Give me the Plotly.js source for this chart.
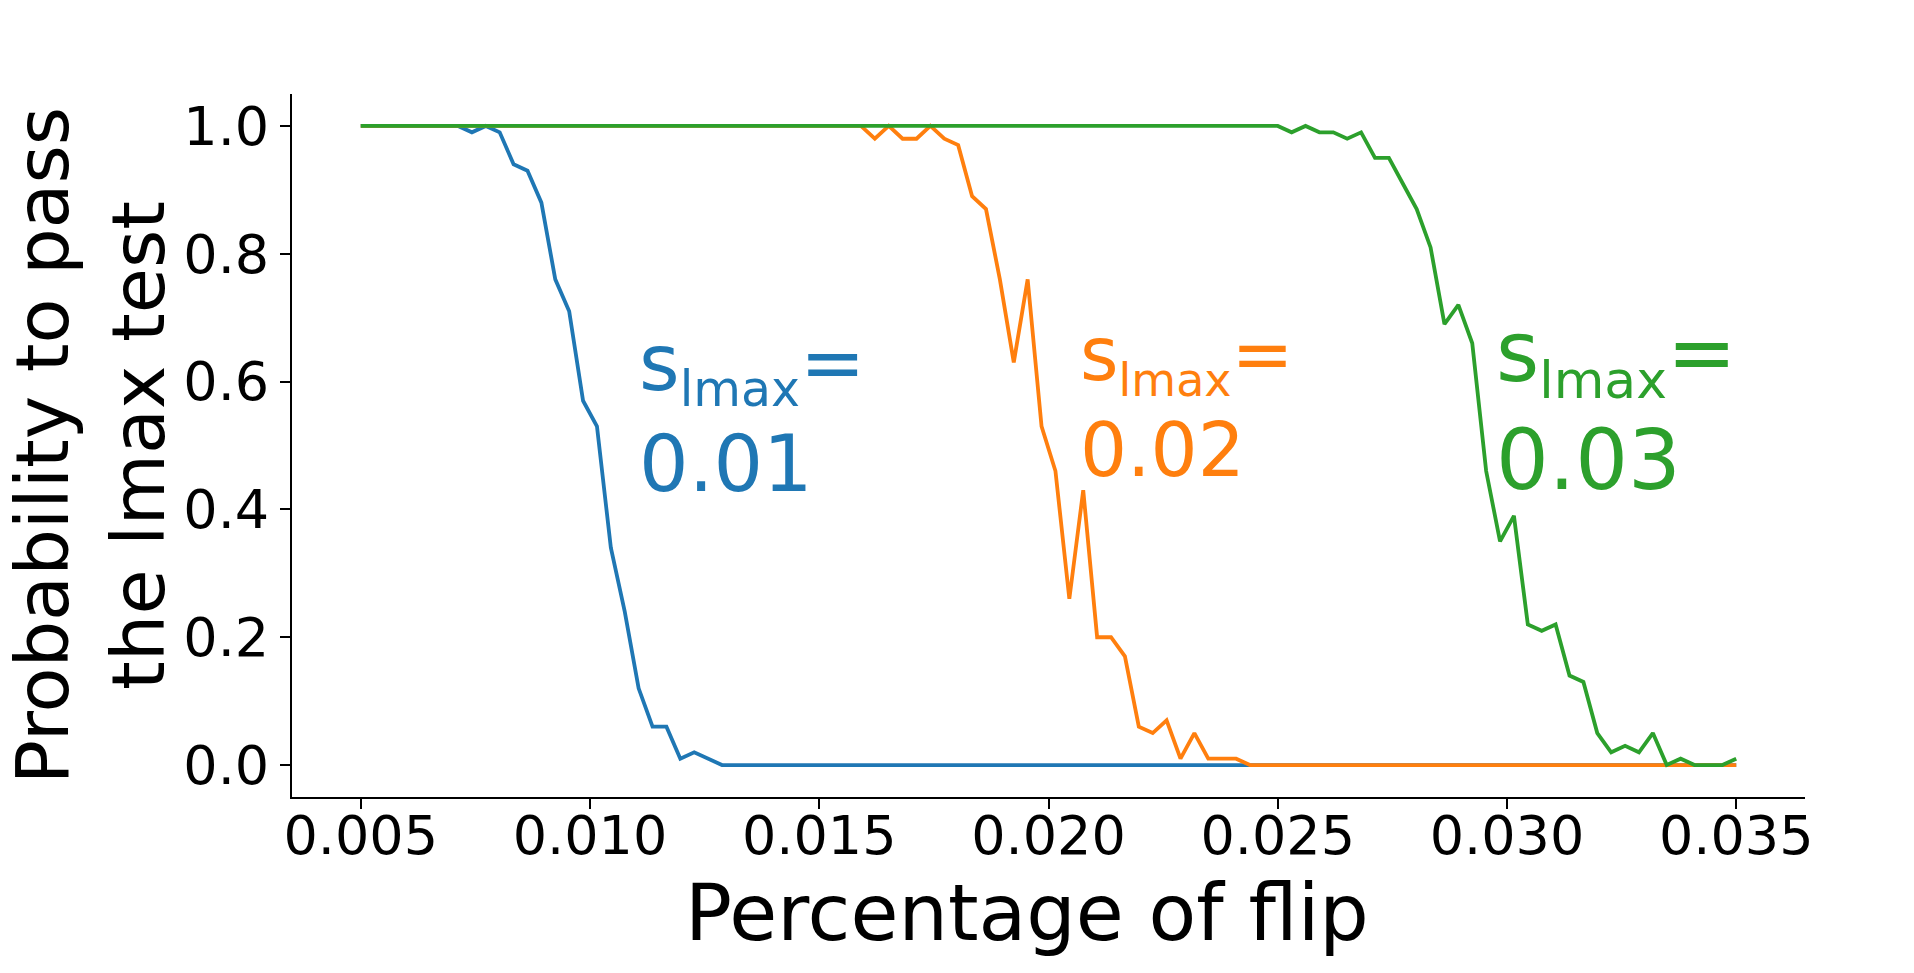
<!DOCTYPE html>
<html>
<head>
<meta charset="utf-8">
<script src="https://cdn.plot.ly/plotly-3.0.1.min.js"></script>
<style>
  html, body { margin: 0; padding: 0; background: #fff; }
  #chart { width: 1914px; height: 973px; }
</style>
</head>
<body>
<div id="chart"></div>
<script>
// percentage of flip (100 points, 0.005 .. 0.035)
const flip = [
  0.005, 0.0053030, 0.0056061, 0.0059091, 0.0062121, 0.0065152, 0.0068182, 0.0071212, 0.0074242, 0.0077273,
  0.0080303, 0.0083333, 0.0086364, 0.0089394, 0.0092424, 0.0095455, 0.0098485, 0.0101515, 0.0104545, 0.0107576,
  0.0110606, 0.0113636, 0.0116667, 0.0119697, 0.0122727, 0.0125758, 0.0128788, 0.0131818, 0.0134848, 0.0137879,
  0.0140909, 0.0143939, 0.0146970, 0.0150000, 0.0153030, 0.0156061, 0.0159091, 0.0162121, 0.0165152, 0.0168182,
  0.0171212, 0.0174242, 0.0177273, 0.0180303, 0.0183333, 0.0186364, 0.0189394, 0.0192424, 0.0195455, 0.0198485,
  0.0201515, 0.0204545, 0.0207576, 0.0210606, 0.0213636, 0.0216667, 0.0219697, 0.0222727, 0.0225758, 0.0228788,
  0.0231818, 0.0234848, 0.0237879, 0.0240909, 0.0243939, 0.0246970, 0.0250000, 0.0253030, 0.0256061, 0.0259091,
  0.0262121, 0.0265152, 0.0268182, 0.0271212, 0.0274242, 0.0277273, 0.0280303, 0.0283333, 0.0286364, 0.0289394,
  0.0292424, 0.0295455, 0.0298485, 0.0301515, 0.0304545, 0.0307576, 0.0310606, 0.0313636, 0.0316667, 0.0319697,
  0.0322727, 0.0325758, 0.0328788, 0.0331818, 0.0334848, 0.0337879, 0.0340909, 0.0343939, 0.0346970, 0.0350000
];

// probability to pass, s_lmax = 0.01
const pass_01 = [
  1, 1, 1, 1, 1, 1, 1, 1, 0.99, 1,
  0.99, 0.94, 0.93, 0.88, 0.76, 0.71, 0.57, 0.53, 0.34, 0.24,
  0.12, 0.06, 0.06, 0.01, 0.02, 0.01, 0, 0, 0, 0,
  0, 0, 0, 0, 0, 0, 0, 0, 0, 0,
  0, 0, 0, 0, 0, 0, 0, 0, 0, 0,
  0, 0, 0, 0, 0, 0, 0, 0, 0, 0,
  0, 0, 0, 0, 0, 0, 0, 0, 0, 0,
  0, 0, 0, 0, 0, 0, 0, 0, 0, 0,
  0, 0, 0, 0, 0, 0, 0, 0, 0, 0,
  0, 0, 0, 0, 0, 0, 0, 0, 0, 0
];

// s_lmax = 0.02
const pass_02 = [
  1, 1, 1, 1, 1, 1, 1, 1, 1, 1,
  1, 1, 1, 1, 1, 1, 1, 1, 1, 1,
  1, 1, 1, 1, 1, 1, 1, 1, 1, 1,
  1, 1, 1, 1, 1, 1, 1, 0.98, 1, 0.98,
  0.98, 1, 0.98, 0.97, 0.89, 0.87, 0.76, 0.63, 0.76, 0.53,
  0.46, 0.26, 0.43, 0.20, 0.20, 0.17, 0.06, 0.05, 0.07, 0.01,
  0.05, 0.01, 0.01, 0.01, 0, 0, 0, 0, 0, 0,
  0, 0, 0, 0, 0, 0, 0, 0, 0, 0,
  0, 0, 0, 0, 0, 0, 0, 0, 0, 0,
  0, 0, 0, 0, 0, 0, 0, 0, 0, 0
];

// s_lmax = 0.03
const pass_03 = [
  1, 1, 1, 1, 1, 1, 1, 1, 1, 1,
  1, 1, 1, 1, 1, 1, 1, 1, 1, 1,
  1, 1, 1, 1, 1, 1, 1, 1, 1, 1,
  1, 1, 1, 1, 1, 1, 1, 1, 1, 1,
  1, 1, 1, 1, 1, 1, 1, 1, 1, 1,
  1, 1, 1, 1, 1, 1, 1, 1, 1, 1,
  1, 1, 1, 1, 1, 1, 1, 0.99, 1, 0.99,
  0.99, 0.98, 0.99, 0.95, 0.95, 0.91, 0.87, 0.81, 0.69, 0.72,
  0.66, 0.46, 0.35, 0.39, 0.22, 0.21, 0.22, 0.14, 0.13, 0.05,
  0.02, 0.03, 0.02, 0.05, 0, 0.01, 0, 0, 0, 0.01
];

const series = [
  { y: pass_01, color: '#1f77b4', label: '0.01', at: [0.01102, 0.397], size: 78, sub: 49 },
  { y: pass_02, color: '#ff7f0e', label: '0.02', at: [0.02065, 0.423], size: 74, sub: 46 },
  { y: pass_03, color: '#2ca02c', label: '0.03', at: [0.02972, 0.397], size: 83, sub: 52 }
];

const x_ticks = [0.005, 0.010, 0.015, 0.020, 0.025, 0.030, 0.035];
const x_tick_text = ['0.005', '0.010', '0.015', '0.020', '0.025', '0.030', '0.035'];
const y_ticks = [0, 0.2, 0.4, 0.6, 0.8, 1.0];
const y_tick_text = ['0.0', '0.2', '0.4', '0.6', '0.8', '1.0'];

const font = 'DejaVu Sans, sans-serif';

var data = series.map(function (s) {
  return {
    x: flip,
    y: s.y,
    mode: 'lines',
    line: { color: s.color, width: 3.8 },
    hoverinfo: 'x+y',
    showlegend: false
  };
});

var notes = series.map(function (s) {
  return {
    x: s.at[0], y: s.at[1],
    xref: 'x', yref: 'y',
    xanchor: 'left', yanchor: 'bottom',
    align: 'left',
    showarrow: false,
    text: 's<sub><span style="font-size:' + s.sub + 'px">lmax</span></sub>=<br>' + s.label,
    font: { family: font, size: s.size, color: s.color }
  };
});

// x axis title, sits a little left of the axis centre as in the original
notes.push({
  x: 0.4861, y: -0.1657,
  xref: 'paper', yref: 'paper',
  xanchor: 'center', yanchor: 'middle',
  showarrow: false,
  text: 'Percentage of flip',
  font: { family: font, size: 78, color: '#000' }
});

var layout = {
  width: 1914,
  height: 973,
  margin: { l: 292, r: 109, t: 94, b: 176 },
  paper_bgcolor: '#fff',
  plot_bgcolor: '#fff',
  font: { family: font, color: '#000' },
  xaxis: {
    range: [0.0035, 0.0365],
    tickvals: x_ticks,
    ticktext: x_tick_text,
    ticks: 'outside', ticklen: 10, tickwidth: 2, tickcolor: '#000',
    showline: true, linecolor: '#000', linewidth: 2,
    showgrid: false, zeroline: false,
    tickfont: { family: font, size: 54, color: '#000' },
    ticklabelstandoff: -20,
    automargin: false
  },
  yaxis: {
    range: [-0.05, 1.05],
    tickvals: y_ticks,
    ticktext: y_tick_text,
    ticks: 'outside', ticklen: 10, tickwidth: 2, tickcolor: '#000',
    showline: true, linecolor: '#000', linewidth: 2,
    showgrid: false, zeroline: false,
    tickfont: { family: font, size: 54, color: '#000' },
    automargin: false,
    title: { text: 'Probability to pass<br>the lmax test', font: { family: font, size: 73.5, color: '#000' }, standoff: 39 }
  },
  annotations: notes
};

Plotly.newPlot('chart', data, layout, { displayModeBar: false, staticPlot: true });
</script>
</body>
</html>
